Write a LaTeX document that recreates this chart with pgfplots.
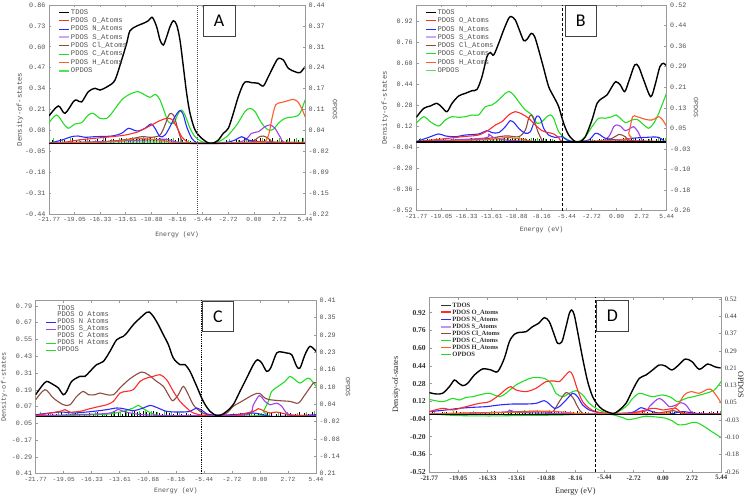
\documentclass[border=0pt]{standalone}
\usepackage{pgfplots}
\pgfplotsset{compat=1.18}
\usepackage{pgfplotstable}
\usepackage{fontspec}
\setmainfont{Liberation Serif}
\newfontfamily\monof{Liberation Mono}
\newfontfamily\letf{Carlito}

\definecolor{cO}{HTML}{FF2A2A}
\definecolor{cN}{HTML}{2A2AFF}
\definecolor{cS}{HTML}{A040E8}
\definecolor{cSl}{HTML}{CBAAF2}
\definecolor{cCl}{HTML}{8B4B3F}
\definecolor{cC}{HTML}{22DD22}
\definecolor{cH}{HTML}{FF5A2A}
\definecolor{cOP}{HTML}{55E055}
\definecolor{axg}{HTML}{9A9A9A}
\definecolor{txg}{HTML}{505050}

\pgfplotstableread{
x h
-21.45 0.020
-21.05 0.015
-20.60 0.025
-20.15 0.020
-19.75 0.015
-19.30 0.030
-18.85 0.020
-18.40 0.015
-17.95 0.025
-17.50 0.020
-17.05 0.015
-16.60 0.025
-16.15 0.020
-15.75 0.030
-15.30 0.020
-14.90 0.025
-14.45 0.015
-14.10 0.030
-13.75 0.025
-13.40 0.020
-13.10 0.035
-12.80 0.030
-12.50 0.025
-12.20 0.035
-11.90 0.030
-11.60 0.025
-11.30 0.035
-11.00 0.030
-10.70 0.025
-10.40 0.035
-10.10 0.030
-9.80 0.025
-9.50 0.020
-9.10 0.030
-8.80 0.025
-8.40 0.020
-8.00 0.030
-7.60 0.020
-7.20 0.025
-6.80 0.015
-2.90 0.020
-2.40 0.015
-1.90 0.025
-1.50 0.020
-1.00 0.030
-0.60 0.020
-0.20 0.025
0.30 0.020
0.70 0.030
1.10 0.025
1.60 0.020
2.00 0.030
2.50 0.020
2.90 0.025
3.40 0.020
3.80 0.030
4.30 0.025
4.70 0.020
5.10 0.030
}\blacksticks

\pgfplotstableread{
x h
-21.30 0.030
-20.40 0.020
-19.55 0.035
-18.60 0.025
-17.70 0.030
-16.85 0.020
-15.95 0.030
-15.10 0.025
-14.25 0.035
-13.55 0.030
-12.95 0.040
-12.35 0.035
-11.75 0.040
-11.15 0.035
-10.55 0.040
-9.95 0.030
-9.30 0.035
-8.60 0.030
-7.80 0.025
-7.00 0.020
-2.60 0.025
-1.70 0.020
-0.80 0.030
0.10 0.025
0.90 0.030
1.80 0.025
2.70 0.030
3.60 0.025
4.50 0.030
5.30 0.035
}\greensticks

\pgfplotsset{
  dosbase/.style={
    scale only axis, xmin=-21.77, xmax=5.44,
    xtick={-21.77,-19.05,-16.33,-13.61,-10.88,-8.16,-5.44,-2.72,0,2.72,5.44},
    xticklabels={-21.77,-19.05,-16.33,-13.61,-10.88,-8.16,-5.44,-2.72,0.00,2.72,5.44},
    xtick pos=both, ytick pos=left, tick align=inside,
    major tick length=2.5pt,
    axis line style={axg, line width=0.9pt},
    every tick/.style={axg, line width=0.6pt},
    legend cell align=left,
    legend image code/.code={\draw[##1] (0pt,0pt) -- (10pt,0pt);},
    xlabel={Energy (eV)}, ylabel={Density-of-states},
  },
  rax/.style={
    scale only axis, xmin=-21.77, xmax=5.44, hide x axis,
    axis y line*=right, tick align=inside, major tick length=2.5pt,
    axis line style={axg, line width=0.9pt},
    every tick/.style={axg, line width=0.6pt},
    ylabel={OPDOS},
  },
  cur/.style={smooth, tension=0.5, line width=1.1pt, forget plot},
  monoticks/.style={
    xticklabel style={txg, font=\monof\fontsize{6.2}{6.5}\selectfont},
    yticklabel style={txg, font=\monof\fontsize{6.8}{7}\selectfont},
    label style={txg, font=\monof\fontsize{6.6}{7}\selectfont},
  },
}

\begin{document}
\begin{tikzpicture}
\useasboundingbox (0,0) rectangle (756bp,-496bp);

%================ PANEL A =================
\begin{axis}[dosbase, monoticks, at={(49bp,-214bp)}, anchor=south west,
  width=256bp, height=209bp, ymin=-0.44, ymax=0.86,
  ytick={-0.44,-0.31,-0.18,-0.05,0.08,0.21,0.34,0.47,0.60,0.73,0.86},
  yticklabels={-0.44,-0.31,-0.18,-0.05,0.08,0.21,0.34,0.47,0.60,0.73,0.86},
  xlabel style={at={(axis description cs:0.5,-0.10)}, anchor=center},
  ylabel style={at={(axis description cs:-0.113,0.5)}, anchor=center, font=\monof\fontsize{7.2}{7}\selectfont},
  legend style={at={(0.036,0.985)}, anchor=north west, draw=none, fill=none, inner sep=0pt,
    font=\monof\fontsize{7.2}{7}\selectfont, text=txg, row sep=0.5pt,
    nodes={inner sep=0.6pt, text height=5.2pt, text depth=1.5pt}},
]
\addlegendimage{black, line width=1pt}\addlegendentry{TDOS}
\addlegendimage{cO, line width=1pt}\addlegendentry{PDOS O\_Atoms}
\addlegendimage{cN, line width=1pt}\addlegendentry{PDOS N\_Atoms}
\addlegendimage{cSl, line width=2pt}\addlegendentry{PDOS S\_Atoms}
\addlegendimage{cCl, line width=1pt}\addlegendentry{PDOS Cl\_Atoms}
\addlegendimage{cC, line width=1pt}\addlegendentry{PDOS C\_Atoms}
\addlegendimage{cH, line width=1pt}\addlegendentry{PDOS H\_Atoms}
\addlegendimage{cOP, line width=2pt}\addlegendentry{OPDOS}
\addplot[ycomb, black, line width=0.5pt, forget plot] table[x=x,y=h]{\blacksticks};
\addplot[ycomb, cC, line width=0.6pt, forget plot] table[x=x,y=h]{\greensticks};
\addplot[cur, cOP] coordinates {(-21.77,0.005) (-10,0.008) (-6,0.004) (0,0.006) (5.44,0.006)};
\addplot[cur, cC] coordinates {(-21.77,0.128) (-20.96,0.176) (-20.25,0.124) (-19.72,0.093) (-19.01,0.120) (-18.30,0.128) (-17.59,0.176) (-17.06,0.186) (-16.35,0.155) (-15.64,0.155) (-15.11,0.186) (-14.05,0.269) (-13.16,0.306) (-12.28,0.321) (-11.57,0.300) (-11.03,0.286) (-10.43,0.304) (-9.97,0.269) (-9.44,0.186) (-9.09,0.134) (-8.55,0.124) (-8.02,0.186) (-7.67,0.207) (-7.31,0.176) (-6.78,0.093) (-6.25,0.041) (-5.54,0.010) (-4.66,0.0) (-3.77,0.010) (-2.89,0.041) (-1.82,0.114) (-0.94,0.197) (-0.41,0.217) (0.13,0.197) (0.84,0.124) (1.54,0.083) (2.07,0.087) (2.61,0.124) (3.31,0.155) (4.38,0.166) (4.91,0.186) (5.44,0.269)};
\addplot[cur, cCl] coordinates {(-21.77,0.0) (-16.88,0.004) (-13.34,0.025) (-11.92,0.041) (-10.86,0.037) (-9.97,0.051) (-9.44,0.114) (-9.09,0.170) (-8.80,0.186) (-8.45,0.166) (-8.10,0.093) (-7.67,0.020) (-7.14,0.0) (-2.35,0.0) (-0.23,0.010) (0.48,0.037) (1.01,0.045) (1.54,0.031) (2.25,0.004) (5.44,0.0)};
\addplot[cur, cS] coordinates {(-21.77,0.0) (-11.57,0.020) (-9.44,0.025) (-7.31,0.0) (-2.35,0.0) (-0.94,0.020) (-0.23,0.062) (0.48,0.072) (1.19,0.103) (1.72,0.114) (2.25,0.093) (2.78,0.041) (3.31,0.004) (5.44,0.0)};
\addplot[cur, cN] coordinates {(-21.77,0.0) (-20.42,0.020) (-19.36,0.041) (-18.65,0.045) (-17.94,0.037) (-16.88,0.041) (-15.11,0.045) (-14.05,0.062) (-13.34,0.093) (-12.81,0.083) (-12.28,0.076) (-11.57,0.093) (-10.93,0.120) (-10.50,0.093) (-9.97,0.041) (-9.44,0.051) (-8.91,0.103) (-8.38,0.166) (-7.85,0.204) (-7.49,0.176) (-7.14,0.103) (-6.60,0.031) (-6.07,0.004) (-5.19,0.0) (-3.06,0.004) (-2.00,0.020) (-1.29,0.041) (-0.58,0.020) (0.48,0.010) (1.19,0.004) (2.61,0.0) (5.44,0.0)};
\addplot[cur, cO] coordinates {(-21.77,0.0) (-20.42,0.004) (-18.65,0.020) (-16.88,0.031) (-15.11,0.041) (-13.69,0.051) (-12.28,0.072) (-10.86,0.114) (-9.97,0.141) (-9.26,0.155) (-8.73,0.149) (-8.20,0.103) (-7.67,0.041) (-6.96,0.004) (-6.25,0.0) (-3.77,0.0) (-0.94,0.004) (0.48,0.010) (2.61,0.006) (5.44,0.004)};
\addplot[cur, cH] coordinates {(-21.77,0.0) (-15,0.01) (-12.5,0.03) (-11,0.025) (-9.5,0.015) (-7.5,0.0) (0.48,0.004) (1.19,0.010) (1.62,0.062) (1.97,0.166) (2.32,0.238) (2.78,0.252) (3.31,0.259) (3.85,0.269) (4.20,0.273) (4.66,0.259) (5.09,0.217) (5.44,0.166)};
\addplot[cur, black, line width=1.4pt] coordinates {(-21.77,0.170) (-20.78,0.232) (-20.07,0.186) (-19.18,0.259) (-18.83,0.269) (-18.30,0.257) (-17.59,0.321) (-16.88,0.342) (-16.35,0.331) (-15.46,0.356) (-14.76,0.393) (-14.05,0.518) (-13.52,0.621) (-13.16,0.700) (-12.45,0.729) (-11.74,0.746) (-11.21,0.762) (-10.79,0.783) (-10.33,0.725) (-9.97,0.642) (-9.62,0.611) (-9.26,0.663) (-8.91,0.725) (-8.55,0.762) (-8.20,0.736) (-7.85,0.642) (-7.49,0.476) (-7.14,0.311) (-6.78,0.186) (-6.25,0.083) (-5.54,0.031) (-4.83,0.002) (-4.30,0.002) (-3.77,0.020) (-3.24,0.062) (-2.71,0.093) (-2.18,0.186) (-1.65,0.290) (-1.11,0.369) (-0.76,0.383) (-0.23,0.377) (0.48,0.373) (1.01,0.356) (1.54,0.414) (2.25,0.497) (2.61,0.528) (3.14,0.518) (3.67,0.466) (4.38,0.445) (4.91,0.439) (5.44,0.476)};
\addplot[black, line width=1.3pt, forget plot] coordinates {(-21.77,0) (5.44,0)};
\addplot[black!70, line width=1pt, densely dotted, forget plot] coordinates {(-6.0,-0.44) (-6.0,0.86)};
\end{axis}
\begin{axis}[rax, monoticks, at={(49bp,-214bp)}, anchor=south west, width=256bp, height=209bp,
  ymin=-0.22, ymax=0.44,
  ytick={-0.22,-0.154,-0.088,-0.022,0.044,0.11,0.176,0.242,0.308,0.374,0.44},
  yticklabels={-0.22,-0.15,-0.09,-0.02,0.04,0.11,0.17,0.24,0.31,0.37,0.44},
  ylabel style={at={(axis description cs:1.117,0.5)}, anchor=center, rotate=180}]
\end{axis}
\draw[line width=1pt, draw=black!75, fill=white] (203bp,-5.7bp) rectangle (235bp,-36bp);
\node[font=\letf\fontsize{18}{18}\selectfont] at (219bp,-21bp) {A};

%================ PANEL B =================
\begin{axis}[dosbase, monoticks, at={(416.3bp,-210.7bp)}, anchor=south west,
  width=250.4bp, height=205.7bp, ymin=-0.52, ymax=1.04,
  ytick={-0.52,-0.36,-0.20,-0.04,0.12,0.28,0.44,0.60,0.76,0.92},
  yticklabels={-0.52,-0.36,-0.20,-0.04,0.12,0.28,0.44,0.60,0.76,0.92},
  xlabel style={at={(axis description cs:0.5,-0.094)}, anchor=center},
  ylabel style={at={(axis description cs:-0.125,0.5)}, anchor=center, font=\monof\fontsize{7.2}{7}\selectfont},
  legend style={at={(0.034,0.983)}, anchor=north west, draw=none, fill=none, inner sep=0pt,
    font=\monof\fontsize{7.2}{7}\selectfont, text=txg, row sep=0.4pt,
    nodes={inner sep=0.6pt, text height=5.2pt, text depth=1.5pt}},
]
\addlegendimage{black, line width=1pt}\addlegendentry{TDOS}
\addlegendimage{cO, line width=1pt}\addlegendentry{PDOS O\_Atoms}
\addlegendimage{cN, line width=1pt}\addlegendentry{PDOS N\_Atoms}
\addlegendimage{cSl, line width=2pt}\addlegendentry{PDOS S\_Atoms}
\addlegendimage{cCl, line width=1pt}\addlegendentry{PDOS Cl\_Atoms}
\addlegendimage{cC, line width=1pt}\addlegendentry{PDOS C\_Atoms}
\addlegendimage{cH, line width=1pt}\addlegendentry{PDOS H\_Atoms}
\addlegendimage{cOP, line width=1pt}\addlegendentry{OPDOS}
\addplot[ycomb, black, line width=0.5pt, forget plot] table[x=x,y=h]{\blacksticks};
\addplot[ycomb, cC, line width=0.6pt, forget plot] table[x=x,y=h]{\greensticks};
\addplot[cur, cOP] coordinates {(-21.77,0.006) (-10,0.008) (-6,0.004) (0,0.006) (5.44,0.006)};
\addplot[cur, cC] coordinates {(-21.77,0.143) (-20.97,0.193) (-20.25,0.155) (-19.34,0.122) (-18.62,0.168) (-17.89,0.193) (-17.17,0.188) (-16.44,0.193) (-15.72,0.206) (-15.00,0.206) (-14.27,0.269) (-13.54,0.282) (-12.82,0.320) (-12.10,0.370) (-11.66,0.383) (-11.19,0.358) (-10.65,0.307) (-9.92,0.244) (-9.20,0.206) (-8.65,0.143) (-8.11,0.155) (-7.57,0.193) (-7.21,0.206) (-6.84,0.181) (-6.30,0.079) (-5.58,0.029) (-4.85,0.004) (-4.13,0.004) (-3.40,0.041) (-2.68,0.117) (-1.95,0.181) (-1.23,0.181) (-0.50,0.193) (-0.07,0.206) (0.40,0.181) (0.94,0.148) (1.67,0.168) (2.21,0.173) (2.76,0.143) (3.48,0.105) (4.02,0.143) (4.57,0.218) (5.44,0.375)};
\addplot[cur, cCl] coordinates {(-21.77,0.004) (-15.00,0.021) (-12.10,0.047) (-10.65,0.041) (-9.92,0.092) (-9.56,0.181) (-9.27,0.206) (-8.98,0.168) (-8.55,0.079) (-8.11,0.016) (-7.75,0.004) (-1.95,0.004) (-0.50,0.029) (0.29,0.059) (0.94,0.041) (1.67,0.011) (5.44,0.004)};
\addplot[cur, cS] coordinates {(-21.77,0.004) (-14.5,0.03) (-13.9,0.06) (-13.2,0.03) (-11,0.01) (-6,0.0) (-1.95,0.004) (-0.87,0.041) (-0.32,0.117) (0.04,0.130) (0.40,0.122) (0.94,0.087) (1.49,0.105) (1.85,0.117) (2.32,0.079) (2.76,0.016) (3.12,0.004) (5.44,0.004)};
\addplot[cur, cN] coordinates {(-21.77,0.004) (-20.43,0.036) (-19.34,0.062) (-18.62,0.047) (-17.53,0.041) (-16.44,0.054) (-15.00,0.062) (-14.09,0.087) (-13.54,0.072) (-12.82,0.072) (-12.10,0.117) (-11.55,0.163) (-11.08,0.143) (-10.65,0.105) (-9.92,0.067) (-9.38,0.079) (-9.02,0.143) (-8.65,0.198) (-8.29,0.181) (-7.93,0.105) (-7.39,0.054) (-6.66,0.036) (-5.94,0.041) (-5.39,0.016) (-4.49,0.004) (-3.04,0.016) (-2.31,0.067) (-1.77,0.054) (-1.23,0.029) (0.22,0.016) (1.67,0.029) (3.12,0.036) (4.57,0.036) (5.44,-0.009)};
\addplot[cur, cO] coordinates {(-21.77,0.004) (-19.34,0.021) (-16.81,0.041) (-15.00,0.054) (-13.91,0.092) (-13.18,0.130) (-12.46,0.155) (-11.73,0.206) (-11.01,0.231) (-10.29,0.213) (-9.56,0.181) (-8.84,0.130) (-8.11,0.087) (-7.39,0.072) (-6.84,0.062) (-6.30,0.036) (-5.58,0.004) (-0.50,0.004) (1.0,0.01) (5.44,0.004)};
\addplot[cur, cH] coordinates {(-21.77,0.0) (-14,0.02) (-12,0.035) (-10,0.02) (-8,0.0) (0.94,0.021) (1.31,0.067) (1.74,0.193) (2.21,0.193) (3.12,0.173) (3.84,0.168) (4.57,0.193) (5.00,0.168) (5.44,0.117)};
\addplot[cur, black, line width=1.4pt] coordinates {(-21.77,0.188) (-20.97,0.256) (-20.25,0.274) (-19.52,0.294) (-18.98,0.264) (-18.43,0.231) (-17.89,0.294) (-17.17,0.350) (-16.44,0.370) (-15.72,0.390) (-15.17,0.400) (-14.63,0.497) (-14.09,0.648) (-13.72,0.679) (-13.36,0.661) (-12.82,0.749) (-12.28,0.850) (-11.73,0.939) (-11.44,0.952) (-11.01,0.926) (-10.57,0.850) (-10.10,0.770) (-9.74,0.780) (-9.27,0.825) (-8.91,0.800) (-8.47,0.699) (-7.93,0.560) (-7.39,0.421) (-6.84,0.345) (-6.30,0.269) (-5.76,0.143) (-5.21,0.054) (-4.49,0.004) (-3.95,0.004) (-3.40,0.041) (-2.68,0.168) (-2.13,0.294) (-1.59,0.332) (-1.05,0.358) (-0.50,0.421) (-0.10,0.459) (0.40,0.433) (0.87,0.383) (1.31,0.459) (1.96,0.585) (2.39,0.572) (2.94,0.471) (3.70,0.345) (4.20,0.440) (4.70,0.572) (5.10,0.598) (5.44,0.577)};
\addplot[black, line width=1.3pt, forget plot] coordinates {(-21.77,0) (5.44,0)};
\addplot[black, line width=0.7pt, densely dashed, forget plot] coordinates {(-5.9,-0.52) (-5.9,1.04)};
\end{axis}
\begin{axis}[rax, monoticks, at={(416.3bp,-210.7bp)}, anchor=south west, width=250.4bp, height=205.7bp,
  ymin=-0.26, ymax=0.52,
  ytick={-0.26,-0.182,-0.104,-0.026,0.052,0.13,0.208,0.286,0.364,0.442,0.52},
  yticklabels={-0.26,-0.18,-0.10,-0.03,0.05,0.13,0.21,0.29,0.36,0.44,0.52},
  ylabel style={at={(axis description cs:1.117,0.5)}, anchor=center, rotate=180}]
\end{axis}
\draw[line width=1pt, draw=black!75, fill=white] (565.3bp,-5.7bp) rectangle (596.3bp,-36bp);
\node[font=\letf\fontsize{18}{18}\selectfont] at (580.8bp,-21bp) {B};

%================ PANEL C =================
\begin{axis}[dosbase, monoticks, at={(35.7bp,-473.7bp)}, anchor=south west,
  width=280.3bp, height=173.4bp, ymin=-0.41, ymax=0.83,
  ytick={-0.41,-0.29,-0.17,-0.05,0.07,0.19,0.31,0.43,0.55,0.67,0.79},
  yticklabels={0.41,-0.29,-0.17,0.05,0.07,0.19,0.31,0.43,0.55,0.67,0.79},
  xlabel style={at={(axis description cs:0.5,-0.10)}, anchor=center},
  ylabel style={at={(axis description cs:-0.113,0.5)}, anchor=center, font=\monof\fontsize{6.8}{7}\selectfont},
  legend style={at={(0.036,0.975)}, anchor=north west, draw=none, fill=none, inner sep=0pt,
    font=\monof\fontsize{7.2}{7}\selectfont, text=txg, row sep=0pt,
    nodes={inner sep=0.4pt, text height=4.8pt, text depth=1.4pt}},
]
\addlegendimage{white, line width=1pt}\addlegendentry{TDOS}
\addlegendimage{white, line width=1pt}\addlegendentry{PDOS O Atoms}
\addlegendimage{cN, line width=1pt}\addlegendentry{PDOS N Atoms}
\addlegendimage{cS, line width=1pt}\addlegendentry{PDOS S\_Atoms}
\addlegendimage{white, line width=1pt}\addlegendentry{PDOS C Atoms}
\addlegendimage{cC, line width=1pt}\addlegendentry{PDOS H Atoms}
\addlegendimage{cC, line width=1pt}\addlegendentry{OPDOS}
\addplot[ycomb, black, line width=0.5pt, forget plot] table[x=x,y=h]{\blacksticks};
\addplot[ycomb, cC, line width=0.6pt, forget plot] table[x=x,y=h]{\greensticks};
\addplot[cur, cC] coordinates {(-21.77,0.005) (-15.53,0.012) (-13.59,0.031) (-12.29,0.060) (-11.81,0.079) (-11.32,0.055) (-10.35,0.017) (-9.06,0.005) (0.01,0.005) (0.33,0.036) (0.81,0.107) (1.14,0.179) (1.78,0.215) (2.43,0.250) (2.92,0.286) (3.40,0.262) (3.89,0.238) (4.53,0.269) (4.86,0.269) (5.44,0.215)};
\addplot[cur, cCl] coordinates {(-21.77,0.119) (-20.87,0.191) (-20.06,0.131) (-19.09,0.083) (-18.44,0.083) (-17.79,0.143) (-17.15,0.179) (-16.66,0.155) (-16.01,0.155) (-15.53,0.167) (-14.88,0.155) (-14.23,0.155) (-13.59,0.203) (-12.93,0.250) (-12.29,0.286) (-11.48,0.317) (-10.84,0.298) (-10.03,0.250) (-9.38,0.215) (-8.89,0.155) (-8.47,0.112) (-7.92,0.155) (-7.44,0.215) (-6.95,0.155) (-6.47,0.083) (-5.82,0.036) (-5.17,0.012) (-4.20,0.005) (-3.23,0.024) (-2.59,0.072) (-1.78,0.107) (-0.64,0.155) (-0.06,0.165) (0.49,0.131) (0.98,0.119) (1.95,0.112) (2.92,0.107) (3.73,0.095) (4.37,0.155) (5.18,0.238) (5.44,0.238)};
\addplot[cur, cS] coordinates {(-21.77,0.005) (-15,0.02) (-13.8,0.05) (-13,0.03) (-11,0.01) (-6,0.005) (-1.29,0.012) (-0.64,0.083) (-0.06,0.148) (0.49,0.107) (0.98,0.083) (1.62,0.095) (2.11,0.072) (2.59,0.024) (3.24,0.005) (5.44,0.005)};
\addplot[cur, cN] coordinates {(-21.77,0.012) (-19.41,0.031) (-18.12,0.024) (-16.17,0.036) (-14.88,0.048) (-13.91,0.060) (-13.26,0.055) (-12.29,0.041) (-11.32,0.060) (-10.67,0.079) (-10.03,0.064) (-9.06,0.036) (-7.76,0.031) (-6.79,0.036) (-6.14,0.060) (-5.50,0.036) (-4.85,0.012) (-2.59,0.012) (-0.64,0.024) (1.30,0.0) (5.44,0.012)};
\addplot[cur, cO] coordinates {(-21.77,0.005) (-19.41,0.036) (-18.93,0.048) (-18.44,0.031) (-17.47,0.036) (-16.50,0.055) (-15.53,0.072) (-14.88,0.083) (-14.23,0.107) (-13.59,0.167) (-12.93,0.179) (-12.29,0.191) (-11.64,0.250) (-11.00,0.274) (-10.35,0.286) (-9.70,0.298) (-9.06,0.262) (-8.41,0.179) (-7.76,0.107) (-7.11,0.060) (-6.47,0.024) (-5.17,0.005) (-2.59,0.005) (-0.64,0.036) (-0.16,0.055) (0.33,0.041) (0.98,0.024) (1.62,0.031) (2.92,0.012) (5.44,0.0)};
\addplot[cur, black, line width=1.4pt] coordinates {(-21.77,0.155) (-21.19,0.215) (-20.71,0.250) (-20.06,0.227) (-19.57,0.203) (-19.09,0.155) (-18.76,0.179) (-18.28,0.250) (-17.47,0.286) (-16.99,0.286) (-16.50,0.322) (-15.85,0.370) (-15.20,0.393) (-14.56,0.465) (-13.91,0.548) (-13.26,0.572) (-12.93,0.596) (-12.29,0.656) (-11.64,0.703) (-11.00,0.744) (-10.74,0.746) (-10.35,0.715) (-9.87,0.656) (-9.38,0.584) (-8.89,0.513) (-8.41,0.417) (-7.76,0.370) (-7.28,0.370) (-6.79,0.322) (-6.14,0.215) (-5.50,0.107) (-4.85,0.036) (-4.20,0.005) (-3.72,0.012) (-3.23,0.036) (-2.59,0.084) (-1.94,0.179) (-1.29,0.274) (-0.64,0.370) (-0.25,0.405) (0.17,0.382) (0.65,0.322) (1.04,0.346) (1.62,0.453) (2.11,0.460) (2.59,0.453) (3.08,0.441) (3.56,0.358) (3.89,0.346) (4.37,0.441) (4.86,0.501) (5.44,0.465)};
\addplot[black, line width=1.3pt, forget plot] coordinates {(-21.77,0) (5.44,0)};
\addplot[black, line width=1.2pt, densely dotted, forget plot] coordinates {(-5.66,-0.41) (-5.66,0.83)};
\end{axis}
\begin{axis}[rax, monoticks, at={(35.7bp,-473.7bp)}, anchor=south west, width=280.3bp, height=173.4bp,
  ymin=-0.21, ymax=0.41,
  ytick={-0.21,-0.148,-0.086,-0.024,0.038,0.10,0.162,0.224,0.286,0.348,0.41},
  yticklabels={0.21,-0.14,-0.08,-0.02,0.04,0.10,0.16,0.23,0.29,0.35,0.41},
  ylabel style={at={(axis description cs:1.114,0.5)}, anchor=center, rotate=180}]
\end{axis}
\draw[line width=1pt, draw=black!75, fill=white] (202.7bp,-301.3bp) rectangle (233.3bp,-331.3bp);
\node[font=\letf\fontsize{18}{18}\selectfont] at (218bp,-316.3bp) {C};

%================ PANEL D =================
\begin{axis}[dosbase, at={(429.3bp,-472bp)}, anchor=south west,
  width=292bp, height=174.7bp, ymin=-0.52, ymax=1.06,
  ytick={-0.52,-0.36,-0.20,-0.04,0.12,0.28,0.44,0.60,0.76,0.92},
  yticklabels={-0.52,-0.36,-0.20,-0.04,0.12,0.28,0.44,0.60,0.76,0.92},
  xticklabel style={black!80, font=\bfseries\fontsize{6.8}{7}\selectfont},
  yticklabel style={black!80, font=\bfseries\fontsize{7.6}{7}\selectfont},
  label style={black!85, font=\fontsize{8.2}{9}\selectfont},
  xlabel style={at={(axis description cs:0.5,-0.109)}, anchor=center},
  ylabel style={at={(axis description cs:-0.114,0.5)}, anchor=center},
  legend style={at={(0.036,0.975)}, anchor=north west, draw=none, fill=none, inner sep=0pt,
    font=\bfseries\fontsize{6.6}{7}\selectfont, text=black!80, row sep=0pt,
    nodes={inner sep=0.5pt, text height=4.8pt, text depth=1.3pt}},
]
\addlegendimage{black!80, line width=1pt}\addlegendentry{TDOS}
\addlegendimage{cO, line width=2pt}\addlegendentry{PDOS O\_Atoms}
\addlegendimage{cN, line width=1pt}\addlegendentry{PDOS N\_Atoms}
\addlegendimage{cSl!80!cS, line width=2pt}\addlegendentry{PDOS S\_Atoms}
\addlegendimage{cCl, line width=1pt}\addlegendentry{PDOS Cl\_Atoms}
\addlegendimage{cC, line width=1pt}\addlegendentry{PDOS C\_Atoms}
\addlegendimage{cH, line width=1pt}\addlegendentry{PDOS H\_Atoms}
\addlegendimage{cC, line width=1pt}\addlegendentry{OPDOS}
\addplot[ycomb, black, line width=0.5pt, forget plot] table[x=x,y=h]{\blacksticks};
\addplot[ycomb, cC, line width=0.6pt, forget plot] table[x=x,y=h]{\greensticks};
\addplot[cur, cC] coordinates {(-21.77,0.005) (-18.97,-0.010) (-15.87,-0.013) (-12.76,-0.008) (-9.66,-0.005) (-7.48,0.003) (-5.93,0.0) (-4.81,0.0) (-3.75,-0.028) (-3.26,-0.047) (-2.51,-0.035) (-1.70,-0.016) (-0.65,-0.022) (0.16,-0.032) (0.91,-0.059) (1.40,-0.092) (2.15,-0.089) (2.77,-0.071) (3.27,-0.077) (4.01,-0.119) (4.51,-0.152) (4.94,-0.179) (5.44,-0.210)};
\addplot[cur, cC] coordinates {(-21.77,0.137) (-20.53,0.116) (-19.59,0.146) (-18.97,0.131) (-18.35,0.155) (-17.73,0.161) (-17.11,0.177) (-16.18,0.192) (-15.25,0.161) (-14.63,0.192) (-13.69,0.267) (-12.76,0.312) (-12.14,0.333) (-11.05,0.327) (-10.43,0.282) (-9.97,0.192) (-9.34,0.161) (-8.72,0.192) (-8.10,0.216) (-7.48,0.177) (-6.86,0.101) (-6.24,0.056) (-5.62,0.026) (-5.00,0.011) (-4.53,0.008) (-3.44,0.071) (-2.82,0.146) (-2.20,0.192) (-1.58,0.177) (-0.96,0.161) (-0.02,0.177) (0.75,0.155) (1.37,0.116) (2.15,0.146) (3.08,0.167) (4.01,0.192) (4.79,0.222) (5.44,0.300)};
\addplot[cur, cCl] coordinates {(-21.77,0.005) (-15,0.02) (-12,0.03) (-10.5,0.02) (-10.12,0.041) (-9.66,0.116) (-9.03,0.198) (-8.41,0.155) (-7.95,0.071) (-7.48,0.011) (-6.5,0.005) (-1.5,0.005) (0.0,0.02) (1.0,0.035) (2.0,0.01) (5.44,0.005)};
\addplot[cur, cS] coordinates {(-21.77,0.005) (-15,0.02) (-14.3,0.04) (-13.5,0.02) (-10,0.01) (-6,0.005) (-1.89,0.026) (-1.27,0.071) (-0.80,0.116) (-0.34,0.146) (0.13,0.116) (0.60,0.071) (1.22,0.086) (1.68,0.107) (2.15,0.086) (2.61,0.026) (3.08,0.005) (5.44,0.005)};
\addplot[cur, cN] coordinates {(-21.77,0.026) (-20.22,0.041) (-18.97,0.056) (-17.73,0.065) (-16.49,0.071) (-15.25,0.086) (-14.0,0.095) (-12.76,0.095) (-11.83,0.101) (-11.05,0.125) (-10.59,0.095) (-10.12,0.056) (-9.66,0.071) (-9.03,0.131) (-8.41,0.192) (-7.95,0.161) (-7.48,0.086) (-6.86,0.041) (-6.39,0.026) (-5.0,0.005) (-3.44,0.005) (-2.66,0.026) (-2.04,0.062) (-1.42,0.041) (-0.65,0.017) (0.60,0.005) (1.84,0.026) (3.08,0.011) (5.44,0.005)};
\addplot[cur, cO] coordinates {(-21.77,0.026) (-20.53,0.056) (-19.59,0.041) (-18.35,0.071) (-17.11,0.101) (-16.18,0.116) (-15.25,0.177) (-14.63,0.228) (-14.16,0.252) (-13.69,0.222) (-12.76,0.207) (-11.83,0.237) (-10.90,0.297) (-10.12,0.303) (-9.66,0.297) (-9.19,0.342) (-8.72,0.388) (-8.41,0.357) (-7.95,0.222) (-7.48,0.116) (-6.86,0.056) (-6.24,0.026) (-5.0,0.005) (-3,0.01) (-0.96,0.056) (-0.02,0.041) (1.22,0.056) (2.0,0.01) (5.44,0.005)};
\addplot[cur, cH] coordinates {(-21.77,0.005) (-14,0.02) (-11,0.03) (-9,0.02) (-7,0.005) (0.0,0.01) (0.60,0.026) (1.37,0.086) (1.99,0.177) (2.61,0.207) (3.39,0.192) (4.01,0.222) (4.48,0.228) (4.94,0.177) (5.44,0.101)};
\addplot[cur, black, line width=1.4pt] coordinates {(-21.77,0.198) (-21.15,0.186) (-20.53,0.192) (-19.90,0.252) (-19.44,0.312) (-19.13,0.291) (-18.66,0.261) (-18.20,0.282) (-17.57,0.357) (-16.80,0.412) (-16.02,0.403) (-15.40,0.388) (-14.78,0.508) (-14.31,0.659) (-13.85,0.725) (-13.38,0.743) (-12.76,0.749) (-12.14,0.795) (-11.58,0.825) (-11.05,0.876) (-10.59,0.840) (-10.12,0.719) (-9.81,0.644) (-9.41,0.659) (-9.03,0.795) (-8.72,0.915) (-8.50,0.945) (-8.26,0.900) (-7.95,0.749) (-7.48,0.508) (-7.01,0.297) (-6.55,0.161) (-6.10,0.090) (-5.62,0.045) (-5.00,0.017) (-4.53,0.011) (-4.06,0.041) (-3.44,0.101) (-2.82,0.222) (-2.20,0.327) (-1.58,0.357) (-0.96,0.403) (-0.34,0.448) (0.22,0.439) (0.84,0.403) (1.47,0.448) (2.09,0.502) (2.71,0.478) (3.39,0.409) (4.17,0.457) (4.79,0.433) (5.44,0.418)};
\addplot[black, line width=1.3pt, forget plot] coordinates {(-21.77,0) (5.44,0)};
\addplot[black, line width=1.2pt, densely dashed, forget plot] coordinates {(-6.30,-0.52) (-6.30,1.06)};
\end{axis}
\begin{axis}[rax, at={(429.3bp,-472bp)}, anchor=south west, width=292bp, height=174.7bp,
  ymin=-0.26, ymax=0.527,
  ytick={-0.26,-0.182,-0.104,-0.026,0.052,0.13,0.208,0.286,0.364,0.442,0.52},
  yticklabels={-0.26,-0.18,-0.10,-0.03,0.05,0.13,0.21,0.29,0.37,0.44,0.52},
  yticklabel style={black!80, font=\fontsize{6.8}{7}\selectfont},
  label style={black!85, font=\fontsize{8.2}{9}\selectfont},
  ylabel style={at={(axis description cs:1.067,0.5)}, anchor=center, rotate=180}]
\end{axis}
\draw[line width=1pt, draw=black!75, fill=white] (596.3bp,-300.3bp) rectangle (628.7bp,-331.3bp);
\node[font=\letf\fontsize{18}{18}\selectfont] at (612.5bp,-315.8bp) {D};
\end{tikzpicture}
\end{document}
